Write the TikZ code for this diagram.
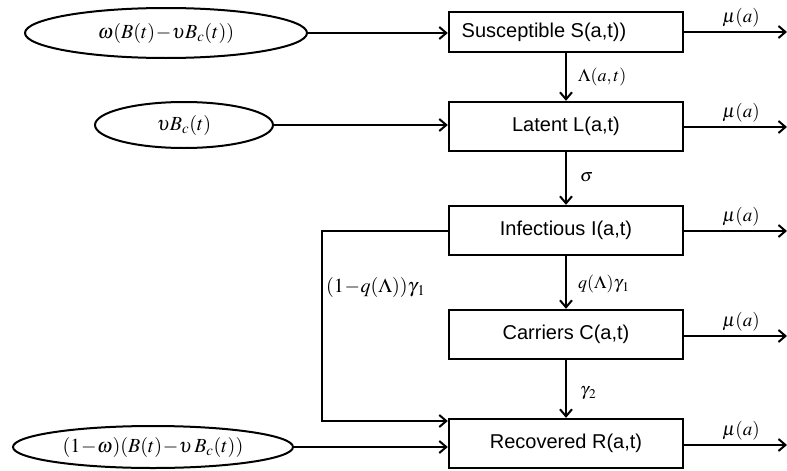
\documentclass[tikz,border=0pt]{standalone}
\usepackage{mathptmx}
\usepackage[no-math]{fontspec}
\setmainfont{Liberation Sans}
\usetikzlibrary{shapes.geometric,arrows.meta}
\begin{document}
\begin{tikzpicture}[x=1pt,y=-1pt,
  box/.style={draw,line width=2.4pt,minimum width=234pt,inner sep=0pt,font=\fontsize{20}{24}\selectfont},
  ell/.style={draw,ellipse,line width=2pt,inner sep=0pt,font=\fontsize{20}{24}\selectfont},
  arr/.style={line width=2pt,-{Straight Barb[length=7pt,width=12pt,line width=2pt]}},
  lab/.style={font=\fontsize{18}{21}\selectfont,inner sep=0pt},
  mulab/.style={font=\fontsize{19}{22}\selectfont,inner sep=0pt}]
\useasboundingbox (0,0) rectangle (787,471);
% boxes
\node[box,minimum height=40pt] (S) at (566,32) {\hspace*{-44pt}Susceptible S(a,t))};
\node[box,minimum height=49pt] (L) at (566,126.5) {Latent L(a,t)};
\node[box,minimum height=49pt] (I) at (566,230.5) {Infectious I(a,t)};
\node[box,minimum height=49pt] (C) at (566,334.5) {Carriers C(a,t)};
\node[box,minimum height=49pt] (R) at (566,443.5) {Recovered R(a,t)};
% ellipses
\node[ell,minimum width=282pt,minimum height=50pt] (E1) at (166,33) {$\omega(B(t)\mkern-2mu-\mkern-2mu\upsilon B_c(t))$};
\node[ell,minimum width=178pt,minimum height=46pt] (E2) at (184,125) {$\upsilon B_c(t)$};
\node[ell,minimum width=280pt,minimum height=42pt] (E3) at (153,447) {$(1\mkern-2mu-\mkern-2mu\omega)(B(t)\mkern-2mu-\mkern-2mu\upsilon\, B_c(t))$};
% inflow arrows
\draw[arr] (E1.east) -- (E1.east -| S.west);
\draw[arr] (E2.east) -- (E2.east -| L.west);
\draw[arr] (E3.east) -- (E3.east -| R.west);
% vertical arrows
\draw[arr] (S.south) -- (L.north);
\draw[arr] (L.south) -- (I.north);
\draw[arr] (I.south) -- (C.north);
\draw[arr] (C.south) -- (R.north);
\node[lab,anchor=west] (l1) at (578,77) {$\Lambda(a,t)$};
\node[lab,anchor=west] (l2) at (580,177) {$\sigma$};
\node[lab,anchor=west] (l3) at (578,284) {$q(\Lambda)\gamma_{\kern1.5pt 1}$};
\node[lab,anchor=west] (l4) at (580,393) {$\gamma_{\kern1.5pt 2}$};
% feedback
\coordinate (fbt) at (322,230.5);
\coordinate (fbb) at (322,421);
\draw[arr] (I.west) -- (fbt) -- (fbb) -- (fbb -| R.west);
\node[lab,anchor=west,font=\fontsize{20}{23}\selectfont] (l5) at (326,287) {$(1\mkern-2mu-\mkern-2mu q(\Lambda))\gamma_{\kern1.5pt 1}$};
% outflow arrows
\coordinate (oS) at (787,32);
\coordinate (oL) at (787,127);
\coordinate (oI) at (787,231);
\coordinate (oC) at (787,336);
\coordinate (oR) at (787,445);
\draw[arr] (S.east |- oS) -- (oS);
\draw[arr] (L.east |- oL) -- (oL);
\draw[arr] (I.east |- oI) -- (oI);
\draw[arr] (C.east |- oC) -- (oC);
\draw[arr] (R.east |- oR) -- (oR);
\node[mulab] (m1) at (741,18) {$\mu(a)$};
\node[mulab] (m2) at (741,113) {$\mu(a)$};
\node[mulab] (m3) at (741,217) {$\mu(a)$};
\node[mulab] (m4) at (741,322) {$\mu(a)$};
\node[mulab] (m5) at (741,431) {$\mu(a)$};
\end{tikzpicture}
\end{document}
